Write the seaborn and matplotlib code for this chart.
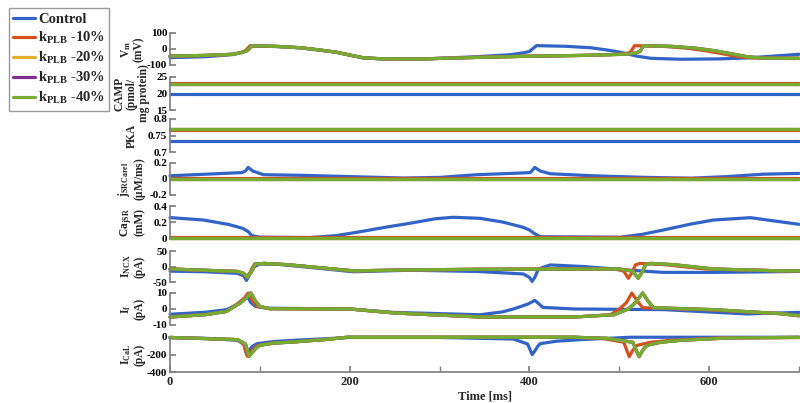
import matplotlib.pyplot as plt
import seaborn as sns
import pandas as pd
from matplotlib.lines import Line2D

# series
series_names = ["Control", "k$_{PLB}$ -10%", "k$_{PLB}$ -20%", "k$_{PLB}$ -30%", "k$_{PLB}$ -40%"]
series_colors = ["#3264C8", "#D4501C", "#E6AE28", "#7E2F8E", "#77AC30"]

# V_m (mV)
vm_t_ctrl = [0, 40, 70, 80, 85, 91, 120, 145, 165, 185, 200, 215, 235, 280, 342, 380, 395, 400, 408, 440, 468, 485, 501, 520, 535, 568, 610, 642, 700]
vm_ctrl = [-54, -48, -35, -20, -12, 19, 15, 7, -6, -20, -38, -55, -62, -63, -48, -35, -22, -15, 21, 17, 8, -5, -20, -45, -58, -64, -62, -56, -33]
vm_t_plb10 = [0, 40, 70, 79, 84, 89, 120, 145, 165, 185, 200, 215, 235, 280, 345, 400, 460, 500, 510, 513, 517, 550, 575, 595, 615, 632, 650, 700]
vm_t_plb40 = [0, 40, 70, 80, 86, 91, 120, 145, 165, 185, 200, 215, 235, 280, 345, 400, 460, 505, 518, 523, 527, 560, 585, 605, 625, 642, 660, 700]
vm_plb = [-44, -40, -33, -22, -10, 20, 16, 8, -5, -20, -38, -55, -61, -62, -52, -45, -40, -33, -25, -15, 21, 16, 5, -10, -30, -48, -57, -58]

# CAMP (pmol/mg protein)
camp_t = [0, 700]
camp_ctrl = [20.0, 20.0]
camp_plb10 = [23.1, 23.1]
camp_plb = [23.0, 23.0]

# PKA
pka_t = [0, 700]
pka_ctrl = [0.734, 0.734]
pka_plb10 = [0.768, 0.768]
pka_plb = [0.769, 0.769]

# j_SRCarel (uM/ms)
jrel_t_ctrl = [0, 60, 80, 84, 87, 92, 104, 150, 200, 260, 300, 342, 380, 401, 406, 412, 423, 470, 531, 580, 620, 660, 700]
jrel_ctrl = [0.04, 0.07, 0.08, 0.1, 0.145, 0.1, 0.054, 0.045, 0.03, 0.012, 0.02, 0.054, 0.07, 0.08, 0.145, 0.1, 0.066, 0.04, 0.02, 0.01, 0.03, 0.06, 0.07]
jrel_t_plb = [0, 700]
jrel_plb10 = [0.008, 0.008]
jrel_plb = [0.004, 0.004]

# Ca_jSR (mM)
cajsr_t_ctrl = [0, 37, 65, 81, 87, 91, 100, 156, 185, 212, 240, 267, 295, 315, 345, 370, 393, 400, 405, 412, 501, 525, 549, 580, 605, 646, 700]
cajsr_ctrl = [0.255, 0.225, 0.17, 0.12, 0.08, 0.03, 0.01, 0.005, 0.03, 0.079, 0.135, 0.184, 0.24, 0.259, 0.246, 0.2, 0.134, 0.1, 0.059, 0.016, 0.01, 0.045, 0.1, 0.175, 0.225, 0.254, 0.171]
cajsr_t_plb = [0, 700]
cajsr_plb10 = [0.01, 0.01]
cajsr_plb = [0.002, 0.002]

# I_NCX (pA)
incx_t_ctrl = [0, 40, 75, 82, 85, 88, 92, 100, 120, 156, 204, 267, 342, 393, 400, 403, 406, 410, 423, 460, 512, 549, 605, 700]
incx_ctrl = [-15, -17, -22, -30, -45, -30, -3, 8, 7, -3, -17, -12, -16, -24, -35, -48, -35, -8, 5, 0, -12, -19, -19, -16]
incx_t_plb10 = [0, 75, 81, 85, 89, 94, 104, 130, 204, 267, 342, 495, 505, 510, 514, 518, 523, 550, 595, 679, 700]
incx_t_plb40 = [0, 75, 82, 86, 90, 95, 105, 130, 204, 267, 342, 500, 515, 521, 525, 529, 535, 560, 605, 679, 700]
incx_plb = [-8, -16, -22, -35, -20, 8, 10, 6, -14, -11, -9, -8, -15, -38, -20, 5, 10, 6, -8, -14, -14]

# I_f (pA)
if_t_ctrl = [0, 40, 63, 78, 86, 90, 95, 110, 200, 248, 345, 370, 382, 398, 406, 411, 415, 450, 550, 642, 700]
if_ctrl = [-3.3, -2.0, -0.4, 3.7, 7.9, 4.0, 1.6, 0.5, 0.0, -2.1, -3.6, -1.8, 0.0, 3.0, 5.4, 3.0, 1.0, 0.0, -0.4, -3.1, -2.1]
if_t_plb10 = [0, 40, 63, 76, 83, 87, 92, 97, 110, 200, 250, 345, 450, 490, 500, 508, 514, 520, 526, 595, 679, 700]
if_t_plb40 = [0, 40, 63, 78, 85, 90, 95, 100, 111, 200, 250, 345, 450, 494, 510, 518, 526, 532, 538, 605, 679, 700]
if_plb = [-5.0, -3.5, -1.5, 3.7, 7.0, 10.0, 5.0, 1.6, 0.2, 0.0, -2.5, -5.0, -5.0, -3.6, 0.0, 4.0, 10.0, 5.0, 0.8, -0.4, -2.9, -4.2]

# I_CaL (pA)
ical_t_ctrl = [0, 40, 75, 82, 85, 88, 92, 97, 115, 137, 175, 200, 300, 382, 398, 403, 406, 409, 412, 430, 457, 512, 700]
ical_ctrl = [-8, -15, -38, -80, -190, -150, -105, -76, -52, -38, -19, -5, -5, -23, -80, -200, -160, -110, -76, -48, -30, -3, -3]
ical_t_plb10 = [0, 75, 82, 86, 90, 94, 98, 115, 137, 175, 197, 450, 480, 505, 511, 514, 517, 520, 535, 557, 614, 700]
ical_t_plb40 = [0, 75, 84, 88, 92, 96, 100, 115, 137, 175, 197, 450, 486, 515, 522, 525, 528, 531, 546, 568, 624, 700]
ical_plb = [-5, -30, -80, -220, -170, -125, -95, -70, -57, -27, -3, -3, -15, -60, -225, -170, -125, -95, -60, -38, -10, -5]

panel_labels = ["V$_m$\n(mV)", "CAMP\n(pmol/\nmg protein)", "PKA", "j$_{SRCarel}$\n($\\mu$M/ms)",
                "Ca$_{jSR}$\n(mM)", "I$_{NCX}$\n(pA)", "I$_f$\n(pA)", "I$_{CaL}$\n(pA)"]
panel_ylims = [(-100, 100), (15, 25), (0.7, 0.8), (-0.2, 0.2), (0, 0.4), (-50, 50), (-10, 10), (-400, 0)]
panel_yticks = [[-100, 0, 100], [15, 20, 25], [0.7, 0.75, 0.8], [-0.2, 0, 0.2], [0, 0.2, 0.4],
                [-50, 0, 50], [-10, 0, 10], [-400, -200, 0]]
panel_yticklabels = [["-100", "0", "100"], ["15", "20", "25"], ["0.7", "0.75", "0.8"], ["-0.2", "0", "0.2"],
                     ["0", "0.2", "0.4"], ["-50", "0", "50"], ["-10", "0", "10"], ["-400", "-200", "0"]]

# per panel: (times, values) for control, -10, -20, -30, -40
panel_series = [
    [(vm_t_ctrl, vm_ctrl), (vm_t_plb10, vm_plb), (vm_t_plb40, vm_plb), (vm_t_plb40, vm_plb), (vm_t_plb40, vm_plb)],
    [(camp_t, camp_ctrl), (camp_t, camp_plb10), (camp_t, camp_plb), (camp_t, camp_plb), (camp_t, camp_plb)],
    [(pka_t, pka_ctrl), (pka_t, pka_plb10), (pka_t, pka_plb), (pka_t, pka_plb), (pka_t, pka_plb)],
    [(jrel_t_ctrl, jrel_ctrl), (jrel_t_plb, jrel_plb10), (jrel_t_plb, jrel_plb), (jrel_t_plb, jrel_plb), (jrel_t_plb, jrel_plb)],
    [(cajsr_t_ctrl, cajsr_ctrl), (cajsr_t_plb, cajsr_plb10), (cajsr_t_plb, cajsr_plb), (cajsr_t_plb, cajsr_plb), (cajsr_t_plb, cajsr_plb)],
    [(incx_t_ctrl, incx_ctrl), (incx_t_plb10, incx_plb), (incx_t_plb40, incx_plb), (incx_t_plb40, incx_plb), (incx_t_plb40, incx_plb)],
    [(if_t_ctrl, if_ctrl), (if_t_plb10, if_plb), (if_t_plb40, if_plb), (if_t_plb40, if_plb), (if_t_plb40, if_plb)],
    [(ical_t_ctrl, ical_ctrl), (ical_t_plb10, ical_plb), (ical_t_plb40, ical_plb), (ical_t_plb40, ical_plb), (ical_t_plb40, ical_plb)],
]

# panel pixel extents (top, bottom) in the 403 px tall figure
panel_px = [(33, 65), (77, 110), (119, 152), (163, 195), (206, 238), (251, 282), (293, 325), (337, 372)]

sns.set_theme(style="ticks")
plt.rcParams["font.family"] = ["Liberation Serif", "DejaVu Serif"]
plt.rcParams["font.weight"] = "bold"
plt.rcParams["mathtext.fontset"] = "custom"
plt.rcParams["mathtext.rm"] = "Liberation Serif:bold"
plt.rcParams["mathtext.it"] = "Liberation Serif:italic:bold"
plt.rcParams["mathtext.bf"] = "Liberation Serif:bold"
plt.rcParams["mathtext.default"] = "rm"
plt.rcParams["axes.unicode_minus"] = False

W, H = 800, 403
fig = plt.figure(figsize=(W / 100, H / 100), dpi=100)
left, right = 170, 799
spine_col = "#808080"
label_x = (132 - left) / (right - left)

for i, (top, bot) in enumerate(panel_px):
    ax = fig.add_axes([left / W, 1 - bot / H, (right - left) / W, (bot - top) / H])
    ax.set_facecolor("none")
    frames = []
    for name, (t, v) in zip(series_names, panel_series[i]):
        frames.append(pd.DataFrame({"t": t, "value": v, "series": name}))
    df = pd.concat(frames, ignore_index=True)
    sns.lineplot(data=df, x="t", y="value", hue="series", hue_order=series_names,
                 palette=series_colors, estimator=None, sort=False, legend=False,
                 linewidth=2.3, clip_on=False, ax=ax)
    ax.set_xlim(0, 700)
    ax.set_ylim(*panel_ylims[i])
    ax.set_yticks(panel_yticks[i])
    ax.set_yticklabels(panel_yticklabels[i], fontsize=8, fontweight="bold")
    ax.set_ylabel(panel_labels[i], fontsize=8.3, fontweight="bold", linespacing=1.05)
    ax.yaxis.label.set_verticalalignment("center")
    ax.yaxis.set_label_coords(label_x, 0.5)
    for s in ["top", "right"]:
        ax.spines[s].set_visible(False)
    ax.spines["left"].set_color(spine_col)
    ax.tick_params(axis="y", direction="in", length=4, color=spine_col, pad=2, labelcolor="black")
    if i < len(panel_px) - 1:
        ax.spines["bottom"].set_visible(False)
        ax.set_xticks([])
        ax.set_xlabel("")
    else:
        ax.spines["bottom"].set_color(spine_col)
        ax.set_xticks([0, 200, 400, 600])
        ax.set_xticklabels(["0", "200", "400", "600"], fontsize=9, fontweight="bold")
        ax.set_xticks([100, 300, 500, 700], minor=True)
        ax.tick_params(axis="x", which="both", direction="in", length=4, color=spine_col, pad=3)
        ax.set_xlabel("Time [ms]", fontsize=9, fontweight="bold", labelpad=2)

handles = [Line2D([0], [0], color=c, lw=2.3) for c in series_colors]
leg = fig.legend(handles, series_names, loc="upper left", bbox_to_anchor=(0.002, 0.998),
                 frameon=True, fancybox=False, edgecolor=spine_col,
                 handlelength=1.5, handletextpad=0.2, labelspacing=0.28, borderpad=0.3,
                 prop={"weight": "bold", "size": 10.5})
leg.get_frame().set_linewidth(1.0)

fig.savefig("out.png", dpi=100)
